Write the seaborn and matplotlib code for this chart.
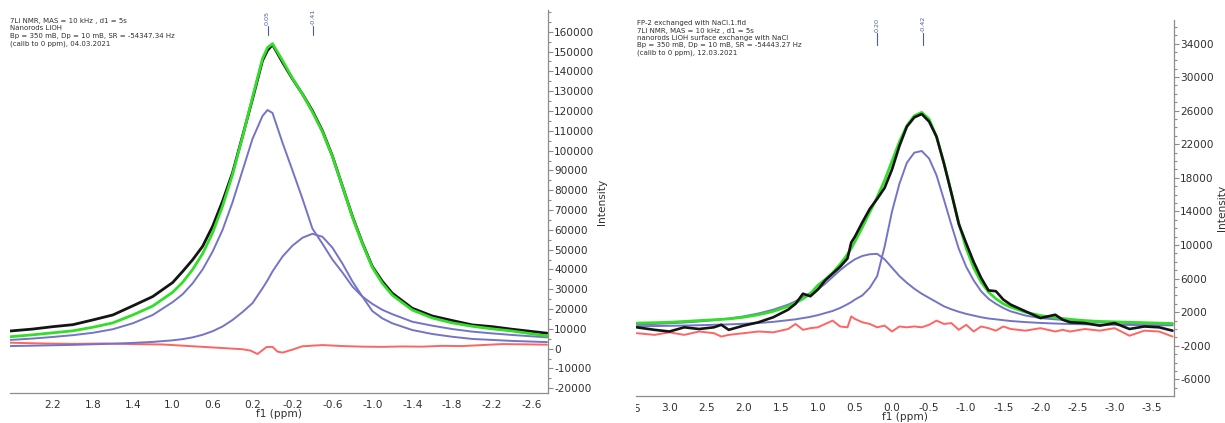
import matplotlib
matplotlib.use("Agg")
import matplotlib.pyplot as plt
import matplotlib.transforms as mtransforms
from matplotlib.ticker import FixedLocator, MultipleLocator, FormatStrFormatter
import seaborn as sns

# ---------------- Nanorods LiOH (left spectrum) ----------------
lioh_ppm = [2.63, 2.4, 2.2, 2.0, 1.8, 1.6, 1.4, 1.2, 1.0, 0.9, 0.8, 0.7, 0.6, 0.5, 0.4,
            0.3, 0.2, 0.1, 0.05, 0.0, -0.1, -0.2, -0.3, -0.4, -0.5, -0.6, -0.7, -0.8,
            -0.9, -1.0, -1.1, -1.2, -1.4, -1.6, -1.8, -2.0, -2.2, -2.4, -2.75]
lioh_spectrum = [8900, 9900, 11100, 12100, 14500, 17000, 21600, 26300, 33400, 39000, 44900,
                 51700, 61800, 74500, 88900, 107400, 126100, 145500, 150600, 153500, 144600,
                 136200, 128600, 120100, 110000, 97300, 82100, 66900, 53400, 41500, 34000,
                 28000, 20400, 16500, 14200, 12000, 11100, 9800, 7800]
lioh_fit = [6000, 7000, 8000, 9000, 10800, 13000, 17000, 21500, 28500, 33500, 40000, 48000,
            58500, 72000, 88000, 107000, 127000, 146500, 152000, 154000, 145500, 136500,
            128500, 119500, 109500, 97000, 82000, 66500, 53000, 41000, 33000, 27000, 19500,
            15500, 13000, 11300, 10000, 8900, 6400]
lioh_peak1 = [4400, 5100, 5900, 6800, 8000, 9800, 12800, 17000, 23500, 27500, 33000, 40000,
              49000, 60000, 74000, 90000, 106000, 117500, 120500, 119000, 104000, 90000,
              75700, 60600, 53000, 45000, 38500, 31400, 26300, 22600, 19600, 17400, 13600,
              11600, 9900, 8600, 7700, 6900, 5700]
lioh_peak2 = [1300, 1500, 1700, 1900, 2200, 2500, 2900, 3400, 4200, 4800, 5700, 7000, 8800,
              11200, 14500, 18500, 23000, 30500, 34500, 39000, 46500, 52000, 56000, 58000,
              56500, 51000, 43000, 34000, 26300, 19000, 15300, 12800, 9400, 7400, 6000, 4900,
              4400, 3900, 3300]
lioh_resid_ppm = [2.63, 2.3, 2.0, 1.7, 1.4, 1.1, 0.8, 0.5, 0.3, 0.22, 0.15, 0.06, 0.0, -0.05,
                  -0.1, -0.2, -0.3, -0.5, -0.7, -0.9, -1.1, -1.3, -1.5, -1.7, -1.9, -2.1,
                  -2.3, -2.5, -2.75]
lioh_resid = [3000, 2600, 2400, 2600, 2300, 2100, 1200, 300, -300, -1000, -2700, 800, 900,
              -1500, -2000, -500, 1200, 1800, 1300, 1000, 900, 1100, 1000, 1400, 1300, 1800,
              2300, 2200, 2000]
lioh_peaks = [0.05, -0.41]
lioh_header = ["7Li NMR, MAS = 10 kHz , d1 = 5s",
               "Nanorods LiOH",
               "Bp = 350 mB, Dp = 10 mB, SR = -54347.34 Hz",
               "(calib to 0 ppm), 04.03.2021"]
lioh_xticks = [2.2, 1.8, 1.4, 1.0, 0.6, 0.2, -0.2, -0.6, -1.0, -1.4, -1.8, -2.2, -2.6]
lioh_yticks = list(range(-20000, 160001, 10000))

# ---------------- NaCl-exchanged nanorods (right spectrum) ----------------
nacl_ppm = [3.44, 3.2, 3.0, 2.8, 2.6, 2.4, 2.3, 2.2, 2.0, 1.8, 1.6, 1.4, 1.3, 1.2, 1.1, 1.0,
            0.9, 0.8, 0.7, 0.6, 0.55, 0.5, 0.4, 0.3, 0.2, 0.1, 0.0, -0.1, -0.2, -0.3, -0.4,
            -0.5, -0.6, -0.7, -0.8, -0.9, -1.0, -1.1, -1.2, -1.3, -1.4, -1.5, -1.6, -1.8,
            -2.0, -2.2, -2.3, -2.4, -2.6, -2.8, -3.0, -3.2, -3.4, -3.6, -3.78]
nacl_spectrum = [200, -100, -300, 200, 0, 200, 500, -100, 400, 800, 1400, 2300, 3000, 4200,
                 3900, 4700, 5800, 6600, 7400, 8400, 10300, 11000, 12700, 14300, 15500, 16800,
                 19000, 21800, 24100, 25200, 25600, 24700, 22900, 19700, 16200, 12500, 10200,
                 8000, 6100, 4600, 4500, 3500, 2900, 2100, 1300, 1700, 1100, 800, 700, 400,
                 700, 0, 300, 200, -200]
nacl_fit = [700, 750, 800, 900, 1000, 1100, 1150, 1200, 1400, 1700, 2100, 2700, 3100, 3600,
            4200, 5200, 5900, 6700, 7700, 8900, 9600, 10400, 12100, 13900, 15700, 17700, 20000,
            22300, 24200, 25400, 25800, 25000, 22900, 19800, 16200, 12600, 9600, 7300, 5600,
            4400, 3600, 3000, 2600, 2000, 1600, 1350, 1250, 1150, 1000, 900, 850, 800, 750,
            700, 650]
nacl_peak1 = [330, 350, 380, 410, 450, 500, 520, 550, 620, 720, 850, 1050, 1150, 1300, 1450,
              1650, 1900, 2150, 2500, 2950, 3200, 3500, 4000, 4900, 6300, 9800, 14000, 17300,
              19800, 21000, 21200, 20300, 18300, 15400, 12400, 9550, 7400, 5800, 4500, 3600,
              3000, 2500, 2100, 1600, 1300, 1150, 1080, 1000, 900, 820, 770, 720, 680, 630, 600]
nacl_peak2 = [530, 600, 680, 770, 900, 1050, 1150, 1250, 1500, 1850, 2300, 2900, 3300, 3800,
              4300, 4700, 5400, 6200, 7000, 7700, 8000, 8300, 8700, 8900, 8950, 8300, 7300,
              6300, 5500, 4800, 4200, 3700, 3200, 2700, 2350, 2050, 1800, 1600, 1400, 1250,
              1150, 1050, 950, 820, 720, 650, 620, 600, 560, 530, 500, 480, 460, 450, 440]
nacl_resid = [-500, -700, -400, -700, -300, -500, -900, -700, -500, -300, -400, 0, 600, -100,
              100, 200, 600, 1000, 300, 200, 1500, 1200, 800, 600, 200, 400, -300, 300, 200,
              300, 200, 500, 1000, 600, 700, -100, 500, -300, 300, 100, -200, 300, 0, -200,
              100, -300, -100, -300, 0, -200, 100, -800, -200, -300, -900]
nacl_peaks = [0.20, -0.42]
nacl_header = ["FP-2 exchanged with NaCl.1.fid",
               "7Li NMR, MAS = 10 kHz , d1 = 5s",
               "nanorods LiOH surface exchange with NaCl",
               "Bp = 350 mB, Dp = 10 mB, SR = -54443.27 Hz",
               "(calib to 0 ppm), 12.03.2021"]
nacl_xticks = [3.0, 2.5, 2.0, 1.5, 1.0, 0.5, 0.0, -0.5, -1.0, -1.5, -2.0, -2.5, -3.0, -3.5]
nacl_edge_tick = 3.5
nacl_yticks = list(range(-6000, 34001, 4000))

# ---------------- styling ----------------
sns.set_theme(style="white")
plt.rcParams["font.family"] = ["DejaVu Sans"]
plt.rcParams["axes.unicode_minus"] = False

C_EXP = "#141414"
C_FIT = "#33dd2a"
C_PEAK = "#7474c6"
C_RES = "#ff6464"
C_AXIS = "#8c8c8c"
C_TXT = "#303030"
C_LBL = "#4a5aa8"
FS = 7.6

W, H = 1225, 423
fig = plt.figure(figsize=(W / 100, H / 100), dpi=100)


def frame(ax, xlim, ylim, xticks, yticks, yminor, ylabel_x):
    ax.set_xlim(*xlim)
    ax.set_ylim(*ylim)
    for side in ("left", "top"):
        ax.spines[side].set_visible(False)
    for side in ("right", "bottom"):
        ax.spines[side].set_color(C_AXIS)
        ax.spines[side].set_linewidth(0.9)
    ax.yaxis.tick_right()
    ax.yaxis.set_label_position("right")
    ax.xaxis.set_major_locator(FixedLocator(xticks))
    ax.xaxis.set_minor_locator(MultipleLocator(0.1))
    ax.xaxis.set_major_formatter(FormatStrFormatter("%.1f"))
    ax.yaxis.set_major_locator(FixedLocator(yticks))
    ax.yaxis.set_minor_locator(MultipleLocator(yminor))
    ax.tick_params(axis="both", which="both", colors=C_AXIS, labelcolor=C_TXT,
                   labelsize=FS, width=0.8)
    ax.tick_params(axis="y", which="major", direction="out", length=3.5, pad=1)
    ax.tick_params(axis="y", which="minor", direction="out", length=2)
    ax.tick_params(axis="x", which="major", direction="inout", length=4, pad=3)
    ax.tick_params(axis="x", which="minor", direction="inout", length=2.5)
    ax.set_xlabel("f1 (ppm)", fontsize=FS, color=C_TXT, labelpad=-1)
    ax.set_ylabel("Intensity", fontsize=FS, color=C_TXT)
    ax.yaxis.set_label_coords(ylabel_x, 0.5)
    ax.grid(False)
    ax.set_facecolor("white")


def curves(ax, ppm, exp, fit, p1, p2, rppm, res, fit_on_top):
    kw = dict(ax=ax, estimator=None, legend=False)
    sns.lineplot(x=rppm, y=res, color=C_RES, lw=1.4, **kw)
    sns.lineplot(x=ppm, y=p1, color=C_PEAK, lw=1.4, **kw)
    sns.lineplot(x=ppm, y=p2, color=C_PEAK, lw=1.4, **kw)
    if fit_on_top:
        sns.lineplot(x=ppm, y=exp, color=C_EXP, lw=2.0, **kw)
        sns.lineplot(x=ppm, y=fit, color=C_FIT, lw=2.0, **kw)
    else:
        sns.lineplot(x=ppm, y=fit, color=C_FIT, lw=2.0, **kw)
        sns.lineplot(x=ppm, y=exp, color=C_EXP, lw=1.9, **kw)


def peak_marks(ax, peaks, y0, y1):
    tr = mtransforms.blended_transform_factory(ax.transData, ax.transAxes)
    for p in peaks:
        ax.plot([p, p], [y0, y1], transform=tr, color=C_LBL, lw=0.8, clip_on=False)
        ax.text(p, y1 + 0.004, f"{p:.2f}", transform=tr, rotation=90, ha="center",
                va="bottom", fontsize=4.6, color=C_LBL, clip_on=False)


# left spectrum
axL = fig.add_axes([10 / W, (H - 393) / H, 538 / W, 383 / H])
curves(axL, lioh_ppm, lioh_spectrum, lioh_fit, lioh_peak1, lioh_peak2,
       lioh_resid_ppm, lioh_resid, fit_on_top=True)
frame(axL, (2.63, -2.76), (-22400, 171000), lioh_xticks, lioh_yticks, 5000, 1.091)
peak_marks(axL, lioh_peaks, 0.935, 0.958)
fig.text(10 / W, 1 - 18 / H, "\n".join(lioh_header), fontsize=5, color=C_TXT,
         va="top", ha="left", linespacing=1.3)

# right spectrum
axR = fig.add_axes([636 / W, (H - 396) / H, 538 / W, 376 / H])
curves(axR, nacl_ppm, nacl_spectrum, nacl_fit, nacl_peak1, nacl_peak2,
       nacl_ppm, nacl_resid, fit_on_top=False)
frame(axR, (3.45, -3.80), (-7980, 36800), nacl_xticks, nacl_yticks, 1000, 1.079)
peak_marks(axR, nacl_peaks, 0.933, 0.965)
fig.text(637 / W, 1 - 20 / H, "\n".join(nacl_header), fontsize=5, color=C_TXT,
         va="top", ha="left", linespacing=1.3)

# the 3.5 tick label sits just past the left edge of the right frame and is cut there
edge_tr = mtransforms.blended_transform_factory(axR.transData, axR.transAxes)
edge_lbl = axR.text(nacl_edge_tick, -0.02, f"{nacl_edge_tick:.1f}", transform=edge_tr,
                    ha="center", va="top", fontsize=FS, color=C_TXT)
edge_lbl.set_clip_box(mtransforms.TransformedBbox(
    mtransforms.Bbox([[636 / W, 0.0], [1.0, 1.0]]), fig.transFigure))
edge_lbl.set_clip_on(True)

fig.savefig("out.png", dpi=100, facecolor="white")
